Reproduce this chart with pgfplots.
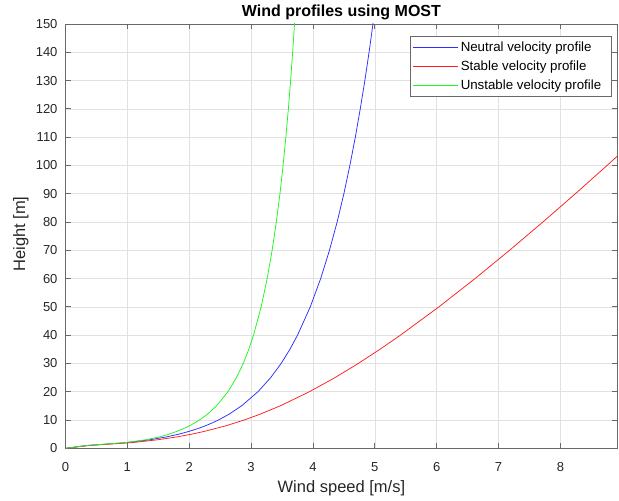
\documentclass[border=0pt]{standalone}
\usepackage{fontspec}
\setmainfont{Liberation Sans}
\usepackage{pgfplots}
\pgfplotsset{compat=1.18}

\definecolor{txtgray}{RGB}{38,38,38}
\definecolor{gridgray}{RGB}{225,225,225}
\definecolor{boxgray}{RGB}{105,105,105}
\definecolor{mblue}{RGB}{45,45,255}
\definecolor{mred}{RGB}{255,30,30}
\definecolor{mgreen}{RGB}{30,245,30}

% long straight line samples in the legend
\pgfplotsset{legend image code/.code={\draw[#1] (0pt,0pt) -- (45pt,0pt);}}

\begin{document}
\begin{tikzpicture}
\begin{axis}[
  name=ax,
  scale only axis,
  width=551.8pt, height=424.3pt,
  xmin=0, xmax=8.92, ymin=0, ymax=150,
  xtick={0,1,...,8}, ytick={0,10,...,150},
  xtick pos=both, ytick pos=both,
  xticklabel pos=lower, yticklabel pos=left,
  tick align=inside,
  major tick length=5pt,
  grid=major,
  major grid style={draw=gridgray, line width=0.6pt},
  axis line style={draw=boxgray, line width=0.8pt},
  tick style={draw=boxgray, line width=0.8pt},
  /pgf/number format/assume math mode=true,
  every tick label/.append style={font=\fontsize{13}{15}\selectfont, text=txtgray},
  xticklabel style={yshift=-10.5pt},
  yticklabel style={xshift=-4.5pt},
  every axis title shift=0pt,
  title={Wind profiles using MOST},
  title style={font=\fontsize{16}{18}\selectfont\bfseries,
    at={(axis description cs:0.5,1.0165)}, anchor=base},
  xlabel={Wind speed [m/s]},
  xlabel style={font=\fontsize{16.5}{18}\selectfont, text=txtgray,
    at={(axis description cs:0.5,-0.103)}, anchor=base},
  ylabel={Height [m]},
  ylabel style={font=\fontsize{16.5}{18}\selectfont, text=txtgray,
    at={(axis description cs:-0.0734,0.505)}, anchor=base},
  legend cell align=left,
  legend style={
    at={(1,1)}, anchor=north east, xshift=-5.6pt, yshift=-12.2pt,
    draw=boxgray, line width=0.6pt, fill=white,
    font=\fontsize{13.3}{15}\selectfont,
    inner xsep=2.7pt, inner ysep=1.4pt, row sep=0pt,
    nodes={inner xsep=2pt, inner ysep=3.2pt, text height=10.7pt, text depth=1.8pt},
  },
]

% neutral profile (wind speed, height)
\addplot[color=mblue, line width=0.75pt] coordinates {
  (0,0) (0.346,1) (0.986,2) (1.361,3) (1.626,4) (1.832,5) (2.000,6)
  (2.143,7) (2.266,8) (2.375,9) (2.471,10) (2.640,12) (2.846,15)
  (3.111,20) (3.317,25) (3.486,30) (3.628,35) (3.751,40) (3.957,50)
  (4.125,60) (4.267,70) (4.391,80) (4.500,90) (4.597,100) (4.685,110)
  (4.765,120) (4.839,130) (4.907,140) (4.970,150) (5.000,155)
};
\addlegendentry{Neutral velocity profile}

% stable profile
\addplot[color=mred, line width=0.75pt] coordinates {
  (0,0) (0.388,1) (1.069,2) (1.486,3) (1.792,4) (2.040,5) (2.249,6)
  (2.599,8) (2.887,10) (3.139,12) (3.470,15) (3.943,20) (4.357,25)
  (4.733,30) (5.083,35) (5.414,40) (6.036,50) (6.620,60) (7.178,70)
  (7.717,80) (8.242,90) (8.755,100) (9.259,110)
};
\addlegendentry{Stable velocity profile}

% unstable profile
\addplot[color=mgreen, line width=0.75pt] coordinates {
  (0,0) (0.346,1) (0.956,2) (1.291,3) (1.516,4) (1.672,5) (1.800,6)
  (1.913,7) (2.010,8) (2.166,10) (2.292,12) (2.441,15) (2.626,20)
  (2.764,25) (2.874,30) (2.963,35) (3.039,40) (3.163,50) (3.260,60)
  (3.340,70) (3.408,80) (3.467,90) (3.517,100) (3.562,110) (3.603,120)
  (3.639,130) (3.672,140) (3.702,150) (3.716,155)
};
\addlegendentry{Unstable velocity profile\hspace*{5.5pt}}

\end{axis}
\pgfresetboundingbox
\path[use as bounding box] ([xshift=-65.5pt,yshift=-51.7pt]ax.south west)
  rectangle ([xshift=1.7pt,yshift=24pt]ax.north east);
\end{tikzpicture}
\end{document}
